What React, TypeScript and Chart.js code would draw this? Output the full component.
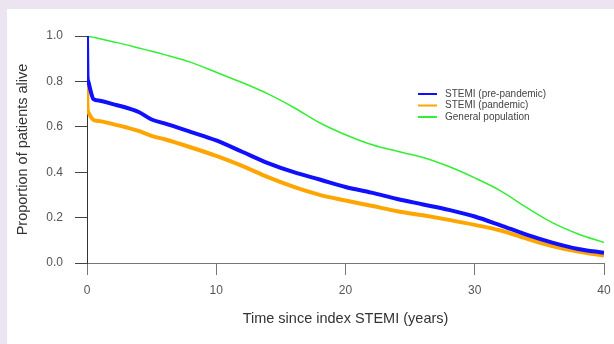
import React, { useEffect, useRef } from "react";
import { Chart, registerables } from "chart.js";

Chart.register(...registerables);

const timeYears = [0, 0.03, 0.1, 0.25, 0.5, 1, 2, 3, 4, 5, 6, 8, 10, 12, 14, 16, 18, 20, 22, 24, 26, 28, 30, 32, 34, 36, 38, 40];
const preValues = [1.0, 0.83, 0.8, 0.765, 0.722, 0.715, 0.7, 0.685, 0.665, 0.632, 0.615, 0.578, 0.54, 0.49, 0.44, 0.4, 0.368, 0.335, 0.31, 0.282, 0.258, 0.234, 0.205, 0.166, 0.125, 0.09, 0.062, 0.045];
const pandValues = [1.0, 0.7, 0.665, 0.648, 0.63, 0.625, 0.612, 0.598, 0.582, 0.56, 0.545, 0.51, 0.472, 0.428, 0.378, 0.335, 0.3, 0.275, 0.252, 0.228, 0.21, 0.19, 0.168, 0.143, 0.108, 0.075, 0.05, 0.033];
const genValues = [1.0, 0.999, 0.998, 0.997, 0.994, 0.988, 0.975, 0.962, 0.947, 0.933, 0.918, 0.885, 0.84, 0.795, 0.745, 0.685, 0.618, 0.565, 0.522, 0.492, 0.465, 0.425, 0.375, 0.318, 0.245, 0.178, 0.128, 0.09];
const seriesLabels = ["STEMI (pre-pandemic)", "STEMI (pandemic)", "General population"];
const xTicks = [0, 10, 20, 30, 40];
const yTicks = [0, 0.2, 0.4, 0.6, 0.8, 1.0];

const FONT = '"Liberation Sans", Arial, Helvetica, sans-serif';

const toPoints = (vals: number[]) => vals.map((v, i) => ({ x: timeYears[i], y: v }));

const legendPlugin = {
  id: "insideLegend",
  afterDatasetsDraw(chart: any) {
    const ctx = chart.ctx;
    ctx.save();
    ctx.font = `10px ${FONT}`;
    ctx.textBaseline = "middle";
    ctx.textAlign = "left";
    chart.data.datasets.forEach((ds: any, i: number) => {
      const y = 85 + i * 11.5;
      ctx.strokeStyle = ds.borderColor;
      ctx.lineWidth = 2;
      ctx.beginPath();
      ctx.moveTo(411, y);
      ctx.lineTo(430, y);
      ctx.stroke();
      ctx.fillStyle = "#444";
      ctx.fillText(ds.label, 438, y);
    });
    ctx.restore();
  },
};

export default function App() {
  const ref = useRef<HTMLCanvasElement | null>(null);
  useEffect(() => {
    if (!ref.current) return;
    const chart = new Chart(ref.current, {
      type: "line",
      data: {
        datasets: [
          { label: seriesLabels[0], data: toPoints(preValues), borderColor: "#1010ff", borderWidth: 4, pointRadius: 0, cubicInterpolationMode: "monotone", fill: false },
          { label: seriesLabels[1], data: toPoints(pandValues), borderColor: "#ffa500", borderWidth: 4, pointRadius: 0, cubicInterpolationMode: "monotone", fill: false },
          { label: seriesLabels[2], data: toPoints(genValues), borderColor: "#33ee33", borderWidth: 1.5, pointRadius: 0, cubicInterpolationMode: "monotone", fill: false },
        ],
      },
      options: {
        animation: false,
        responsive: false,
        maintainAspectRatio: false,
        layout: { padding: { top: 27, right: 0, left: 0, bottom: 0 } },
        plugins: { legend: { display: false }, tooltip: { enabled: false } },
        scales: {
          x: {
            type: "linear",
            min: 0,
            max: 40,
            afterBuildTicks: (s: any) => { s.ticks = xTicks.map((v) => ({ value: v })); },
            ticks: { color: "#555", font: { family: FONT, size: 12 }, padding: 8, maxRotation: 0 },
            grid: { drawOnChartArea: false, drawTicks: true, tickLength: 12, color: "#777" },
            border: { display: true, color: "#777", width: 1 },
            title: { display: true, text: "Time since index STEMI (years)", color: "#333", font: { family: FONT, size: 14.5 }, padding: { top: 0, bottom: 16 } },
            afterFit: (s: any) => { s.height = 81; s.paddingRight = 10; s.paddingLeft = 0; },
          },
          y: {
            type: "linear",
            min: 0,
            max: 1,
            afterBuildTicks: (s: any) => { s.ticks = yTicks.map((v) => ({ value: v })); },
            ticks: { color: "#555", font: { family: FONT, size: 12 }, padding: 12, callback: (v: any) => Number(v).toFixed(1) },
            grid: { drawOnChartArea: false, drawTicks: true, tickLength: 12, color: "#444" },
            border: { display: true, color: "#333", width: 1 },
            title: { display: true, text: "Proportion of patients alive", color: "#333", font: { family: FONT, size: 14.5 }, padding: { top: 7, bottom: 0 } },
            afterFit: (s: any) => { s.width = 80; },
          },
        },
      },
      plugins: [legendPlugin],
    } as any);
    return () => chart.destroy();
  }, []);
  return (
    <div style={{ position: "fixed", left: 0, top: 0, width: 614, height: 344, background: "#ece5f1" }}>
      <div style={{ position: "absolute", left: 7, top: 9, width: 607, height: 335, background: "#fff" }}>
        <canvas ref={ref} width={607} height={335} style={{ display: "block", width: 607, height: 335 }} />
      </div>
    </div>
  );
}
